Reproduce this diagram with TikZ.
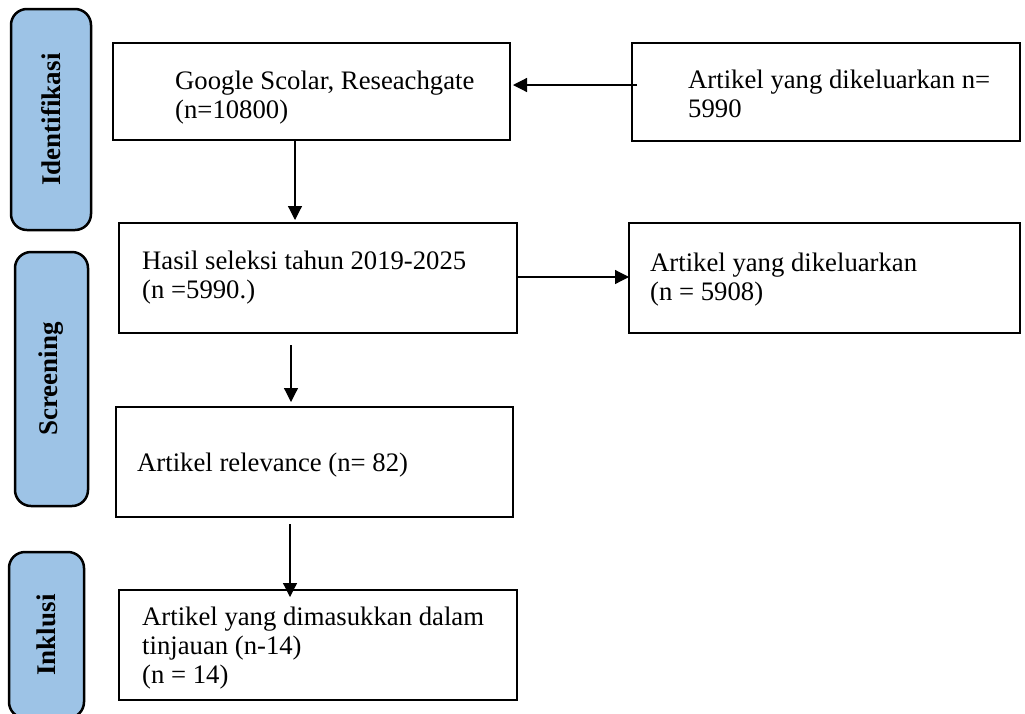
\documentclass[tikz,border=0pt]{standalone}
\usepackage{fontspec}
\setmainfont{Liberation Serif}
\usepackage{tikz}
\usetikzlibrary{arrows.meta,positioning}
\definecolor{stageblue}{RGB}{157,195,230}

\begin{document}
\begin{tikzpicture}[x=1pt, y=-1pt,
    stage/.style={draw, rounded corners=16pt, line width=2.5pt, fill=stageblue, rotate=90, inner sep=0pt, font=\fontsize{27}{29}\selectfont\bfseries},
    box/.style={draw, line width=2pt, anchor=north west, inner sep=0pt, outer sep=0pt},
    txt/.style={anchor=west, align=left, inner sep=0pt, font=\fontsize{26.7}{29}\selectfont},
    arr/.style={-{Triangle[length=14pt, width=14pt]}, line width=1.2pt}]

    \useasboundingbox (0,0) rectangle (1025,713);

    % Stages
    \node[stage, minimum width=221pt, minimum height=80pt] (ident) at (51,119.5) {Identifikasi};
    \node[stage, minimum width=254pt, minimum height=73pt] (screen) at (51.5,379) {Screening};
    \node[stage, minimum width=166pt, minimum height=75pt] (inkl) at (46.5,635) {Inklusi};

    % Nodes
    \node[box, minimum width=397pt, minimum height=97pt,
        label={[txt, xshift=62pt, yshift=-6pt]west:{Google Scolar, Reseachgate\\(n=10800)}}] (google) at (113,43) {};
    \node[box, minimum width=388pt, minimum height=98pt,
        label={[txt, xshift=56pt, yshift=-1.5pt]west:{Artikel yang dikeluarkan n=\\5990}}] (excl1) at (632,43) {};
    \node[box, minimum width=398pt, minimum height=110pt,
        label={[txt, xshift=23pt]west:{Hasil seleksi tahun 2019-2025\\(n =5990.)}}] (seleksi) at (119,223) {};
    \node[box, minimum width=391pt, minimum height=110pt,
        label={[txt, xshift=21pt, yshift=-2pt]west:{Artikel yang dikeluarkan\\(n = 5908)}}] (excl2) at (629,223) {};
    \node[box, minimum width=397pt, minimum height=110pt,
        label={[txt, xshift=21pt, yshift=-3pt]west:{Artikel relevance (n= 82)}}] (relevan) at (116,407) {};
    \node[box, minimum width=398pt, minimum height=110pt,
        label={[txt, xshift=23pt, yshift=-3pt]west:{Artikel yang dimasukkan dalam\\tinjauan (n-14)\\(n = 14)}}] (final) at (119,590) {};

    % Edges
    \draw[arr, shorten <=-5pt, shorten >=3pt] ([yshift=7pt]excl1.west) -- ([yshift=6.5pt]google.east);
    \draw[arr, shorten >=3pt] ([xshift=-16.5pt]google.south) -- ([xshift=-23pt]seleksi.north);
    \draw[arr, shorten <=1pt] ([yshift=1pt]seleksi.east) -- ([yshift=1pt]excl2.west);
    \draw[arr, shorten <=12pt, shorten >=5pt] ([xshift=-27pt]seleksi.south) -- ([xshift=-23.5pt]relevan.north);
    \draw[arr, shorten <=7pt, shorten >=-7pt] ([xshift=-24.5pt]relevan.south) -- ([xshift=-28pt]final.north);
\end{tikzpicture}
\end{document}
